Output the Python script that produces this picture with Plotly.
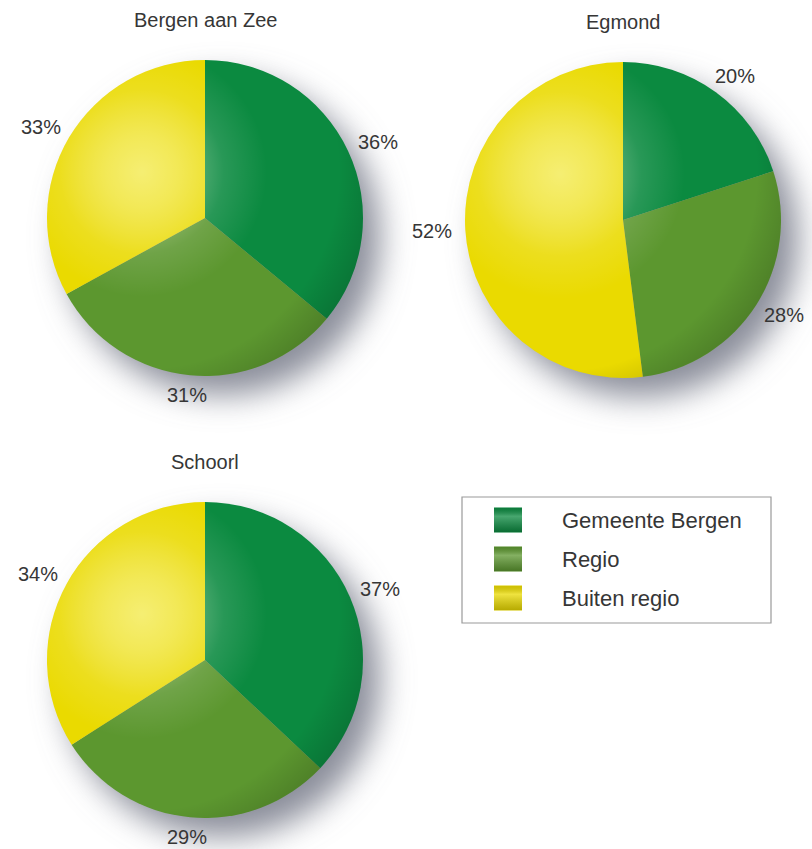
import math
import base64
import plotly.graph_objects as go

# ---------------- data ----------------
categories = ["Gemeente Bergen", "Regio", "Buiten regio"]
titles = ["Bergen aan Zee", "Egmond", "Schoorl"]
bergen_aan_zee = [36, 31, 33]
egmond = [20, 28, 52]
schoorl = [37, 29, 34]
series = [bergen_aan_zee, egmond, schoorl]
colors = ["#0b8a40", "#5c972f", "#eada00"]

# ---------------- layout constants ----------------
W, H = 812, 849
R = 158
centers = [(205, 218), (623, 220), (205, 660)]
FONT = "Liberation Sans, Arial, Helvetica, sans-serif"
TXT = "#363636"


def px(x):
    return x / W


def py(y):
    return 1 - y / H


def svg_uri(svg):
    return "data:image/svg+xml;base64," + base64.b64encode(svg.encode("utf-8")).decode("ascii")


fig = go.Figure()
annotations = []
images = []
shapes = []

PAD = 40
S = 2 * R + 2 * PAD + 50
shadow_svg = (
    f'<svg xmlns="http://www.w3.org/2000/svg" width="{S}" height="{S}" viewBox="0 0 {S} {S}">'
    '<defs><filter id="b" x="-50%" y="-50%" width="200%" height="200%">'
    '<feGaussianBlur stdDeviation="16"/></filter></defs>'
    f'<circle cx="{R + PAD + 17}" cy="{R + PAD + 19}" r="{R}" fill="rgb(128,131,145)" '
    'fill-opacity="0.92" filter="url(#b)"/></svg>'
)

D = 2 * R
hl_svg = (
    f'<svg xmlns="http://www.w3.org/2000/svg" width="{D}" height="{D}" viewBox="0 0 {D} {D}">'
    '<defs><radialGradient id="g" gradientUnits="userSpaceOnUse" cx="95" cy="112" r="240" fx="95" fy="112">'
    '<stop offset="0" stop-color="#ffffd0" stop-opacity="0.55"/>'
    '<stop offset="0.15" stop-color="#ffffd8" stop-opacity="0.4"/>'
    '<stop offset="0.34" stop-color="#ffffff" stop-opacity="0.12"/>'
    '<stop offset="0.52" stop-color="#ffffff" stop-opacity="0"/>'
    '<stop offset="0.82" stop-color="#000000" stop-opacity="0"/>'
    '<stop offset="1" stop-color="#000000" stop-opacity="0.16"/>'
    '</radialGradient></defs>'
    f'<circle cx="{R}" cy="{R}" r="{R}" fill="url(#g)"/></svg>'
)

for title, vals, (cx, cy) in zip(titles, series, centers):
    fig.add_trace(go.Pie(
        labels=categories, values=vals, name=title,
        sort=False, direction="clockwise", rotation=0,
        marker=dict(colors=colors, line=dict(width=0)),
        textinfo="none", hoverinfo="label+percent", showlegend=False,
        domain=dict(x=[px(cx - R), px(cx + R)], y=[py(cy + R), py(cy - R)]),
    ))

    # soft shadow under the pie
    images.append(dict(
        source=svg_uri(shadow_svg), xref="paper", yref="paper",
        x=px(cx - R - PAD), y=py(cy - R - PAD), sizex=S / W, sizey=S / H,
        xanchor="left", yanchor="top", sizing="stretch", layer="below",
    ))
    # glossy highlight over the pie
    images.append(dict(
        source=svg_uri(hl_svg), xref="paper", yref="paper",
        x=px(cx - R), y=py(cy - R), sizex=D / W, sizey=D / H,
        xanchor="left", yanchor="top", sizing="stretch", layer="above",
    ))

    # title
    annotations.append(dict(
        text=title, x=px(cx), y=py(cy - R - 40), xref="paper", yref="paper",
        xanchor="center", yanchor="middle", showarrow=False,
        font=dict(family=FONT, size=20, color=TXT),
    ))

    # percentage labels, placed outside each slice at its mid angle
    total = sum(vals)
    cum = 0
    for v in vals:
        mid = (cum + v / 2) / total
        cum += v
        th = 2 * math.pi * mid
        dx, dy = math.sin(th), -math.cos(th)
        g = 12
        lx = cx + dx * (R + g) + dx * 21
        ly = cy + dy * (R + g) + dy * 8
        annotations.append(dict(
            text=f"{round(100 * v / total)}%", x=px(lx), y=py(ly),
            xref="paper", yref="paper", xanchor="center", yanchor="middle",
            showarrow=False, font=dict(family=FONT, size=20, color=TXT),
        ))

# ---------------- legend ----------------
LX0, LY0, LX1, LY1 = 462, 497, 771, 623
shapes.append(dict(
    type="rect", xref="paper", yref="paper",
    x0=px(LX0), x1=px(LX1), y0=py(LY1), y1=py(LY0),
    line=dict(color="#9a9a9a", width=1.2), fillcolor="rgba(0,0,0,0)", layer="below",
))
row_y = [520, 559, 598]
sq_svg = (
    '<svg xmlns="http://www.w3.org/2000/svg" width="28" height="25" viewBox="0 0 28 25">'
    '<defs><linearGradient id="v" x1="0" y1="0" x2="0" y2="1">'
    '<stop offset="0" stop-color="#000000" stop-opacity="0.12"/>'
    '<stop offset="0.35" stop-color="#ffffff" stop-opacity="0.25"/>'
    '<stop offset="1" stop-color="#000000" stop-opacity="0.22"/>'
    '</linearGradient></defs><rect x="0" y="0" width="28" height="25" fill="url(#v)"/></svg>'
)
for cat, col, yc in zip(categories, colors, row_y):
    shapes.append(dict(
        type="rect", xref="paper", yref="paper",
        x0=px(494), x1=px(522), y0=py(yc + 12.5), y1=py(yc - 12.5),
        line=dict(width=0), fillcolor=col, layer="below",
    ))
    images.append(dict(
        source=svg_uri(sq_svg), xref="paper", yref="paper",
        x=px(494), y=py(yc - 12.5), sizex=28 / W, sizey=25 / H,
        xanchor="left", yanchor="top", sizing="stretch", layer="above",
    ))
    annotations.append(dict(
        text=cat, x=px(560), y=py(yc), xref="paper", yref="paper",
        xanchor="left", yanchor="middle", showarrow=False,
        font=dict(family=FONT, size=22, color=TXT),
    ))

fig.update_layout(
    width=W, height=H,
    margin=dict(l=0, r=0, t=0, b=0),
    paper_bgcolor="white", plot_bgcolor="white",
    showlegend=False,
    annotations=annotations, images=images, shapes=shapes,
)

fig.write_html(
    "out.html",
    config={"displayModeBar": False},
    post_script="document.body.style.margin='0';document.body.style.overflow='hidden';",
)
